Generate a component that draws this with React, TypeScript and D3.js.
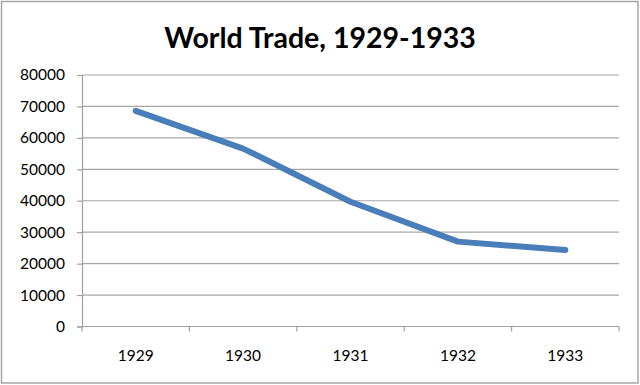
import { useEffect, useRef } from 'react';
import * as d3 from 'd3';

const years = ['1929', '1930', '1931', '1932', '1933'];
const trade = [68600, 56600, 39700, 27000, 24300];
const yTicks = [0, 10000, 20000, 30000, 40000, 50000, 60000, 70000, 80000];
const title = 'World Trade, 1929-1933';

const W = 640;
const H = 385;

export default function App() {
  const svgRef = useRef<SVGSVGElement>(null);

  useEffect(() => {
    const svg = d3.select(svgRef.current);
    svg.selectAll('*').remove();

    const left = 82, right = 619, top = 75, bottom = 326.5;
    const font = 'Lato, "Open Sans", sans-serif';

    // chart frame
    svg.append('rect')
      .attr('x', 1.5).attr('y', 1.5)
      .attr('width', W - 3.5).attr('height', H - 3.5)
      .attr('fill', 'white')
      .attr('stroke', '#a6a6a6')
      .attr('stroke-width', 1.5);

    svg.append('text')
      .attr('x', W / 2).attr('y', 48)
      .attr('text-anchor', 'middle')
      .attr('font-family', font)
      .attr('font-weight', 'bold')
      .attr('font-size', 28.5)
      .attr('fill', '#000')
      .text(title);

    const x = d3.scaleBand().domain(years).range([left, right]);
    const y = d3.scaleLinear().domain([0, 80000]).range([bottom, top]);

    // horizontal gridlines
    svg.append('g')
      .selectAll('line')
      .data(yTicks.filter(t => t > 0))
      .enter()
      .append('line')
      .attr('x1', left).attr('x2', right)
      .attr('y1', d => y(d)).attr('y2', d => y(d))
      .attr('stroke', '#a6a6a6')
      .attr('stroke-width', 1.2);

    // y axis
    const yAxis = svg.append('g')
      .attr('transform', `translate(${left},0)`)
      .call(d3.axisLeft(y).tickValues(yTicks).tickSize(5).tickPadding(12).tickFormat(d3.format('d')));
    yAxis.select('.domain').attr('stroke', '#a0a0a0').attr('stroke-width', 1.2);
    yAxis.selectAll('.tick line').attr('stroke', '#a0a0a0').attr('stroke-width', 1.2);
    yAxis.selectAll('text')
      .attr('font-family', font)
      .attr('font-size', 15.5)
      .attr('fill', '#000');

    // x axis with ticks on category boundaries
    svg.append('line')
      .attr('x1', left).attr('x2', right)
      .attr('y1', bottom).attr('y2', bottom)
      .attr('stroke', '#a0a0a0').attr('stroke-width', 1.2);
    const bounds = years.map(d => x(d)!).concat([right]);
    svg.append('g')
      .selectAll('line')
      .data(bounds)
      .enter()
      .append('line')
      .attr('x1', d => d).attr('x2', d => d)
      .attr('y1', bottom).attr('y2', bottom + 5)
      .attr('stroke', '#a0a0a0').attr('stroke-width', 1.2);
    svg.append('g')
      .selectAll('text')
      .data(years)
      .enter()
      .append('text')
      .attr('x', d => x(d)! + x.bandwidth() / 2)
      .attr('y', 361)
      .attr('text-anchor', 'middle')
      .attr('font-family', font)
      .attr('font-size', 15.5)
      .attr('fill', '#000')
      .text(d => d);

    const line = d3.line<number>()
      .x((_, i) => x(years[i])! + x.bandwidth() / 2)
      .y(d => y(d));

    svg.append('path')
      .datum(trade)
      .attr('d', line)
      .attr('fill', 'none')
      .attr('stroke', '#4a7ebb')
      .attr('stroke-width', 6)
      .attr('stroke-linecap', 'round')
      .attr('stroke-linejoin', 'round');
  }, []);

  return (
    <svg
      ref={svgRef}
      width={W}
      height={H}
      style={{ position: 'absolute', left: 0, top: 0 }}
    />
  );
}
